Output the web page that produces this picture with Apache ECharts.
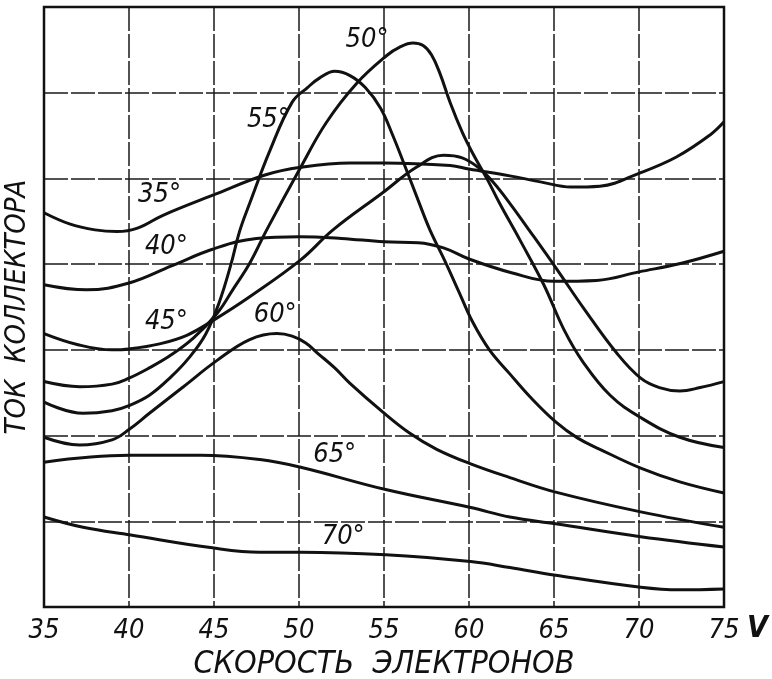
<!DOCTYPE html>
<html>
<head>
<meta charset="utf-8">
<script src="https://cdn.jsdelivr.net/npm/echarts@6/dist/echarts.min.js"></script>
<style>
  html, body { margin: 0; padding: 0; background: #fff; }
  #chart { width: 772px; height: 679px; }
</style>
</head>
<body>
<div id="chart"></div>
<script>
// Collector current versus electron speed at several scattering angles.
// Each curve is a list of [speed (V), current (arbitrary units)] pairs.
const xTicks = [35, 40, 45, 50, 55, 60, 65, 70, 75];

const curve35 = [[35,4.60],[36.5,4.47],[38,4.40],[39.3,4.38],[40.5,4.42],[42,4.57],[45,4.81],[48,5.04],[50.1,5.13],[53,5.18],[55,5.18],[58.9,5.15],[60,5.11],[62.4,5.03],[64.2,4.96],[66,4.90],[67.7,4.91],[70,5.06],[72.2,5.25],[74.2,5.51],[75,5.66]];
const curve40 = [[35,3.76],[37.5,3.70],[40,3.78],[42.5,3.98],[45,4.18],[47.5,4.30],[50,4.32],[52.5,4.30],[55,4.26],[57,4.25],[58.5,4.19],[60,4.06],[62.5,3.90],[65,3.80],[67.5,3.81],[70,3.91],[72.5,4.01],[75,4.15]];
const curve45 = [[35,3.19],[37,3.06],[39,3.00],[40,3.01],[41.8,3.07],[43.4,3.17],[45,3.35],[47.1,3.62],[50.1,4.05],[52,4.40],[54.9,4.83],[56.9,5.13],[58.5,5.27],[59.6,5.24],[60.6,5.12],[61.4,4.96],[62.4,4.71],[63.6,4.38],[65.1,3.96],[66.8,3.47],[68.7,2.96],[70.1,2.67],[71.2,2.56],[72.4,2.52],[73.6,2.56],[75,2.63]];
const curve50 = [[35,2.63],[37.1,2.57],[39,2.60],[40,2.67],[41.2,2.79],[42.4,2.93],[43.8,3.14],[45.2,3.43],[46.1,3.70],[47.1,4.01],[48.1,4.40],[50.1,5.13],[51.6,5.65],[53.4,6.11],[55.2,6.44],[55.9,6.53],[56.7,6.58],[57.3,6.55],[57.8,6.44],[58.3,6.22],[58.9,5.88],[59.6,5.54],[60.2,5.30],[61.1,4.98],[61.8,4.71],[63,4.28],[64.4,3.76],[65.6,3.23],[66.7,2.86],[68.3,2.47],[70.1,2.21],[72.4,1.98],[75,1.86]];
const curve55 = [[35,2.39],[37.3,2.26],[39,2.29],[40,2.35],[41.2,2.47],[42.5,2.69],[43.5,2.90],[44.5,3.18],[45.3,3.55],[46,4.00],[46.5,4.38],[47.1,4.71],[48.3,5.33],[49.6,5.89],[50.5,6.06],[51.2,6.17],[52.1,6.25],[53,6.20],[53.9,6.06],[54.8,5.82],[55.5,5.51],[56.2,5.16],[57,4.75],[57.7,4.40],[58.6,4.03],[59.4,3.68],[60.2,3.33],[61.2,3.00],[62.4,2.72],[63.6,2.45],[65.1,2.16],[66.4,1.97],[67.7,1.84],[70.1,1.62],[72.4,1.46],[75,1.33]];
const curve60 = [[35,1.98],[37.1,1.89],[39,1.95],[40,2.07],[41.2,2.26],[43.2,2.57],[45.2,2.88],[47.1,3.12],[48.7,3.19],[49.6,3.16],[50.4,3.08],[51.1,2.96],[52.1,2.79],[53,2.61],[54.9,2.28],[56.5,2.03],[58.1,1.84],[60.1,1.67],[62.4,1.51],[65.1,1.34],[70.1,1.11],[75,0.93]];
const curve65 = [[35,1.69],[40,1.77],[44.2,1.77],[47.7,1.72],[50.1,1.63],[55.1,1.37],[60.1,1.16],[62.4,1.05],[65.1,0.97],[70.1,0.82],[75,0.70]];
const curve70 = [[35,1.05],[37.3,0.93],[40.1,0.84],[44.9,0.69],[47.7,0.64],[50.1,0.64],[55.1,0.61],[60.1,0.53],[62.4,0.46],[65.1,0.37],[70.1,0.23],[72.4,0.20],[75,0.21]];

const angleNames = ['35°', '40°', '45°', '50°', '55°', '60°', '65°', '70°'];
const curves = [curve35, curve40, curve45, curve50, curve55, curve60, curve65, curve70];
// where each angle tag sits, in [speed, current]
const tagSpots = [[41.8,4.81],[42.2,4.20],[42.2,3.33],[54.0,6.62],[48.2,5.68],[48.6,3.41],[52.1,1.77],[52.6,0.82]];

const xTitle = 'СКОРОСТЬ  ЭЛЕКТРОНОВ';
const yTitle = 'ТОК  КОЛЛЕКТОРА';
const unitText = 'V';

const ink = '#111';
const handFont = '"DejaVu Sans Condensed", "Liberation Sans Narrow", "DejaVu Sans", sans-serif';

const chart = echarts.init(document.getElementById('chart'), null, { renderer: 'canvas' });

const series = curves.map((pts, i) => ({
  type: 'line',
  name: angleNames[i],
  data: pts,
  smooth: 0.4,
  showSymbol: false,
  lineStyle: { color: ink, width: 3 },
  silent: true,
  markPoint: {
    symbol: 'circle',
    symbolSize: 0,
    silent: true,
    label: {
      show: true,
      formatter: angleNames[i],
      color: ink,
      fontFamily: handFont,
      fontStyle: 'italic',
      fontSize: 27,
      position: 'inside'
    },
    data: [{ coord: tagSpots[i] }]
  }
}));

const gridLine = { color: '#1a1a1a', width: 1.5, type: [24, 3] };

chart.setOption({
  animation: false,
  backgroundColor: '#fff',
  grid: { left: 44, right: 48, top: 7, bottom: 72, containLabel: false, outerBoundsMode: 'none' },
  xAxis: {
    type: 'value',
    min: xTicks[0],
    max: xTicks[xTicks.length - 1],
    interval: 5,
    name: xTitle,
    nameLocation: 'middle',
    nameGap: 42,
    nameTextStyle: {
      color: ink, fontFamily: handFont, fontStyle: 'italic', fontSize: 32
    },
    axisLine: { show: false },
    axisTick: { show: false },
    axisLabel: {
      color: ink, fontFamily: handFont, fontStyle: 'italic', fontSize: 27, margin: 10,
      formatter: v => String(v)
    },
    splitLine: { show: true, lineStyle: gridLine }
  },
  yAxis: {
    type: 'value',
    min: 0,
    max: 7,
    interval: 1,
    name: yTitle,
    nameLocation: 'middle',
    nameGap: 12,
    nameRotate: 90,
    nameTextStyle: {
      color: ink, fontFamily: handFont, fontStyle: 'italic', fontSize: 29
    },
    axisLine: { show: false },
    axisTick: { show: false },
    axisLabel: { show: false },
    splitLine: { show: true, lineStyle: gridLine }
  },
  graphic: [
    {
      type: 'rect',
      shape: { x: 44, y: 7, width: 680, height: 600 },
      style: { fill: null, stroke: ink, lineWidth: 2.5 },
      silent: true,
      z: 10
    },
    {
      type: 'text',
      left: 747,
      top: 614,
      style: {
        text: unitText, fill: ink, font: 'bold italic 30px ' + handFont
      }
    }
  ],
  series: series
});
</script>
</body>
</html>
